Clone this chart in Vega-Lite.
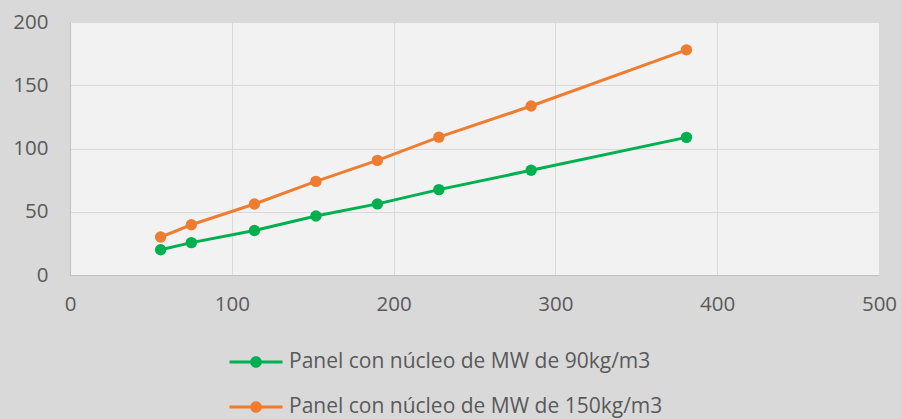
{
  "$schema": "https://vega.github.io/schema/vega-lite/v6.json",
  "width": 809,
  "height": 253,
  "autosize": "none",
  "padding": {"left": 70, "top": 22, "right": 22, "bottom": 144},
  "background": "#d9d9d9",
  "config": {
    "view": {"fill": "#f2f2f2", "stroke": null},
    "font": "Open Sans"
  },
  "data": {
    "values": [
      {"x": 56, "y": 20, "series": "Panel con núcleo de MW de 90kg/m3"},
      {"x": 75, "y": 25.6, "series": "Panel con núcleo de MW de 90kg/m3"},
      {"x": 114, "y": 35.2, "series": "Panel con núcleo de MW de 90kg/m3"},
      {"x": 152, "y": 46.6, "series": "Panel con núcleo de MW de 90kg/m3"},
      {"x": 190, "y": 56.2, "series": "Panel con núcleo de MW de 90kg/m3"},
      {"x": 228, "y": 67.5, "series": "Panel con núcleo de MW de 90kg/m3"},
      {"x": 285, "y": 82.8, "series": "Panel con núcleo de MW de 90kg/m3"},
      {"x": 381, "y": 108.8, "series": "Panel con núcleo de MW de 90kg/m3"},
      {"x": 56, "y": 30, "series": "Panel con núcleo de MW de 150kg/m3"},
      {"x": 75, "y": 39.7, "series": "Panel con núcleo de MW de 150kg/m3"},
      {"x": 114, "y": 56.1, "series": "Panel con núcleo de MW de 150kg/m3"},
      {"x": 152, "y": 74, "series": "Panel con núcleo de MW de 150kg/m3"},
      {"x": 190, "y": 90.6, "series": "Panel con núcleo de MW de 150kg/m3"},
      {"x": 228, "y": 109, "series": "Panel con núcleo de MW de 150kg/m3"},
      {"x": 285, "y": 133.6, "series": "Panel con núcleo de MW de 150kg/m3"},
      {"x": 381, "y": 178, "series": "Panel con núcleo de MW de 150kg/m3"}
    ]
  },
  "encoding": {
    "x": {
      "field": "x",
      "type": "quantitative",
      "scale": {"domain": [0, 500], "nice": false, "zero": true},
      "axis": {
        "values": [0, 100, 200, 300, 400, 500],
        "title": null,
        "grid": true,
        "gridColor": "#d9d9d9",
        "gridWidth": 1,
        "domainColor": "#bfbfbf",
        "domainWidth": 1,
        "ticks": false,
        "labelFontSize": 20.5,
        "labelColor": "#595959",
        "labelPadding": 19,
        "labelFlush": false
      }
    },
    "y": {
      "field": "y",
      "type": "quantitative",
      "scale": {"domain": [0, 200], "nice": false},
      "axis": {
        "values": [0, 50, 100, 150, 200],
        "title": null,
        "grid": true,
        "gridColor": "#d9d9d9",
        "gridWidth": 1,
        "domainColor": "#bfbfbf",
        "domainWidth": 1,
        "ticks": false,
        "labelFontSize": 20.5,
        "labelColor": "#595959",
        "labelPadding": 22,
        "labelFlush": false
      }
    },
    "color": {
      "field": "series",
      "type": "nominal",
      "scale": {
        "domain": ["Panel con núcleo de MW de 90kg/m3", "Panel con núcleo de MW de 150kg/m3"],
        "range": ["#00b050", "#ed7d31"]
      },
      "legend": {
        "title": null,
        "orient": "none",
        "direction": "vertical",
        "legendX": 175,
        "legendY": 329,
        "padding": 0,
        "rowPadding": 24,
        "symbolType": "M-2.5,-0.14H2.5V0.14H-2.5Z M-0.55,0A0.55,0.55 0 1,1 0.55,0A0.55,0.55 0 1,1 -0.55,0Z",
        "symbolSize": 450,
        "symbolStrokeWidth": 0,
        "labelFontSize": 21,
        "labelColor": "#595959",
        "labelOffset": 22,
        "labelLimit": 0,
        "encode": {
          "symbols": {
            "update": {
              "fill": {"scale": "color", "field": "value"},
              "stroke": {"value": "transparent"},
              "strokeWidth": {"value": 0},
              "opacity": {"value": 1}
            }
          }
        }
      }
    }
  },
  "layer": [
    {"mark": {"type": "line", "strokeWidth": 3}},
    {"mark": {"type": "point", "filled": true, "size": 130, "opacity": 1}}
  ]
}
